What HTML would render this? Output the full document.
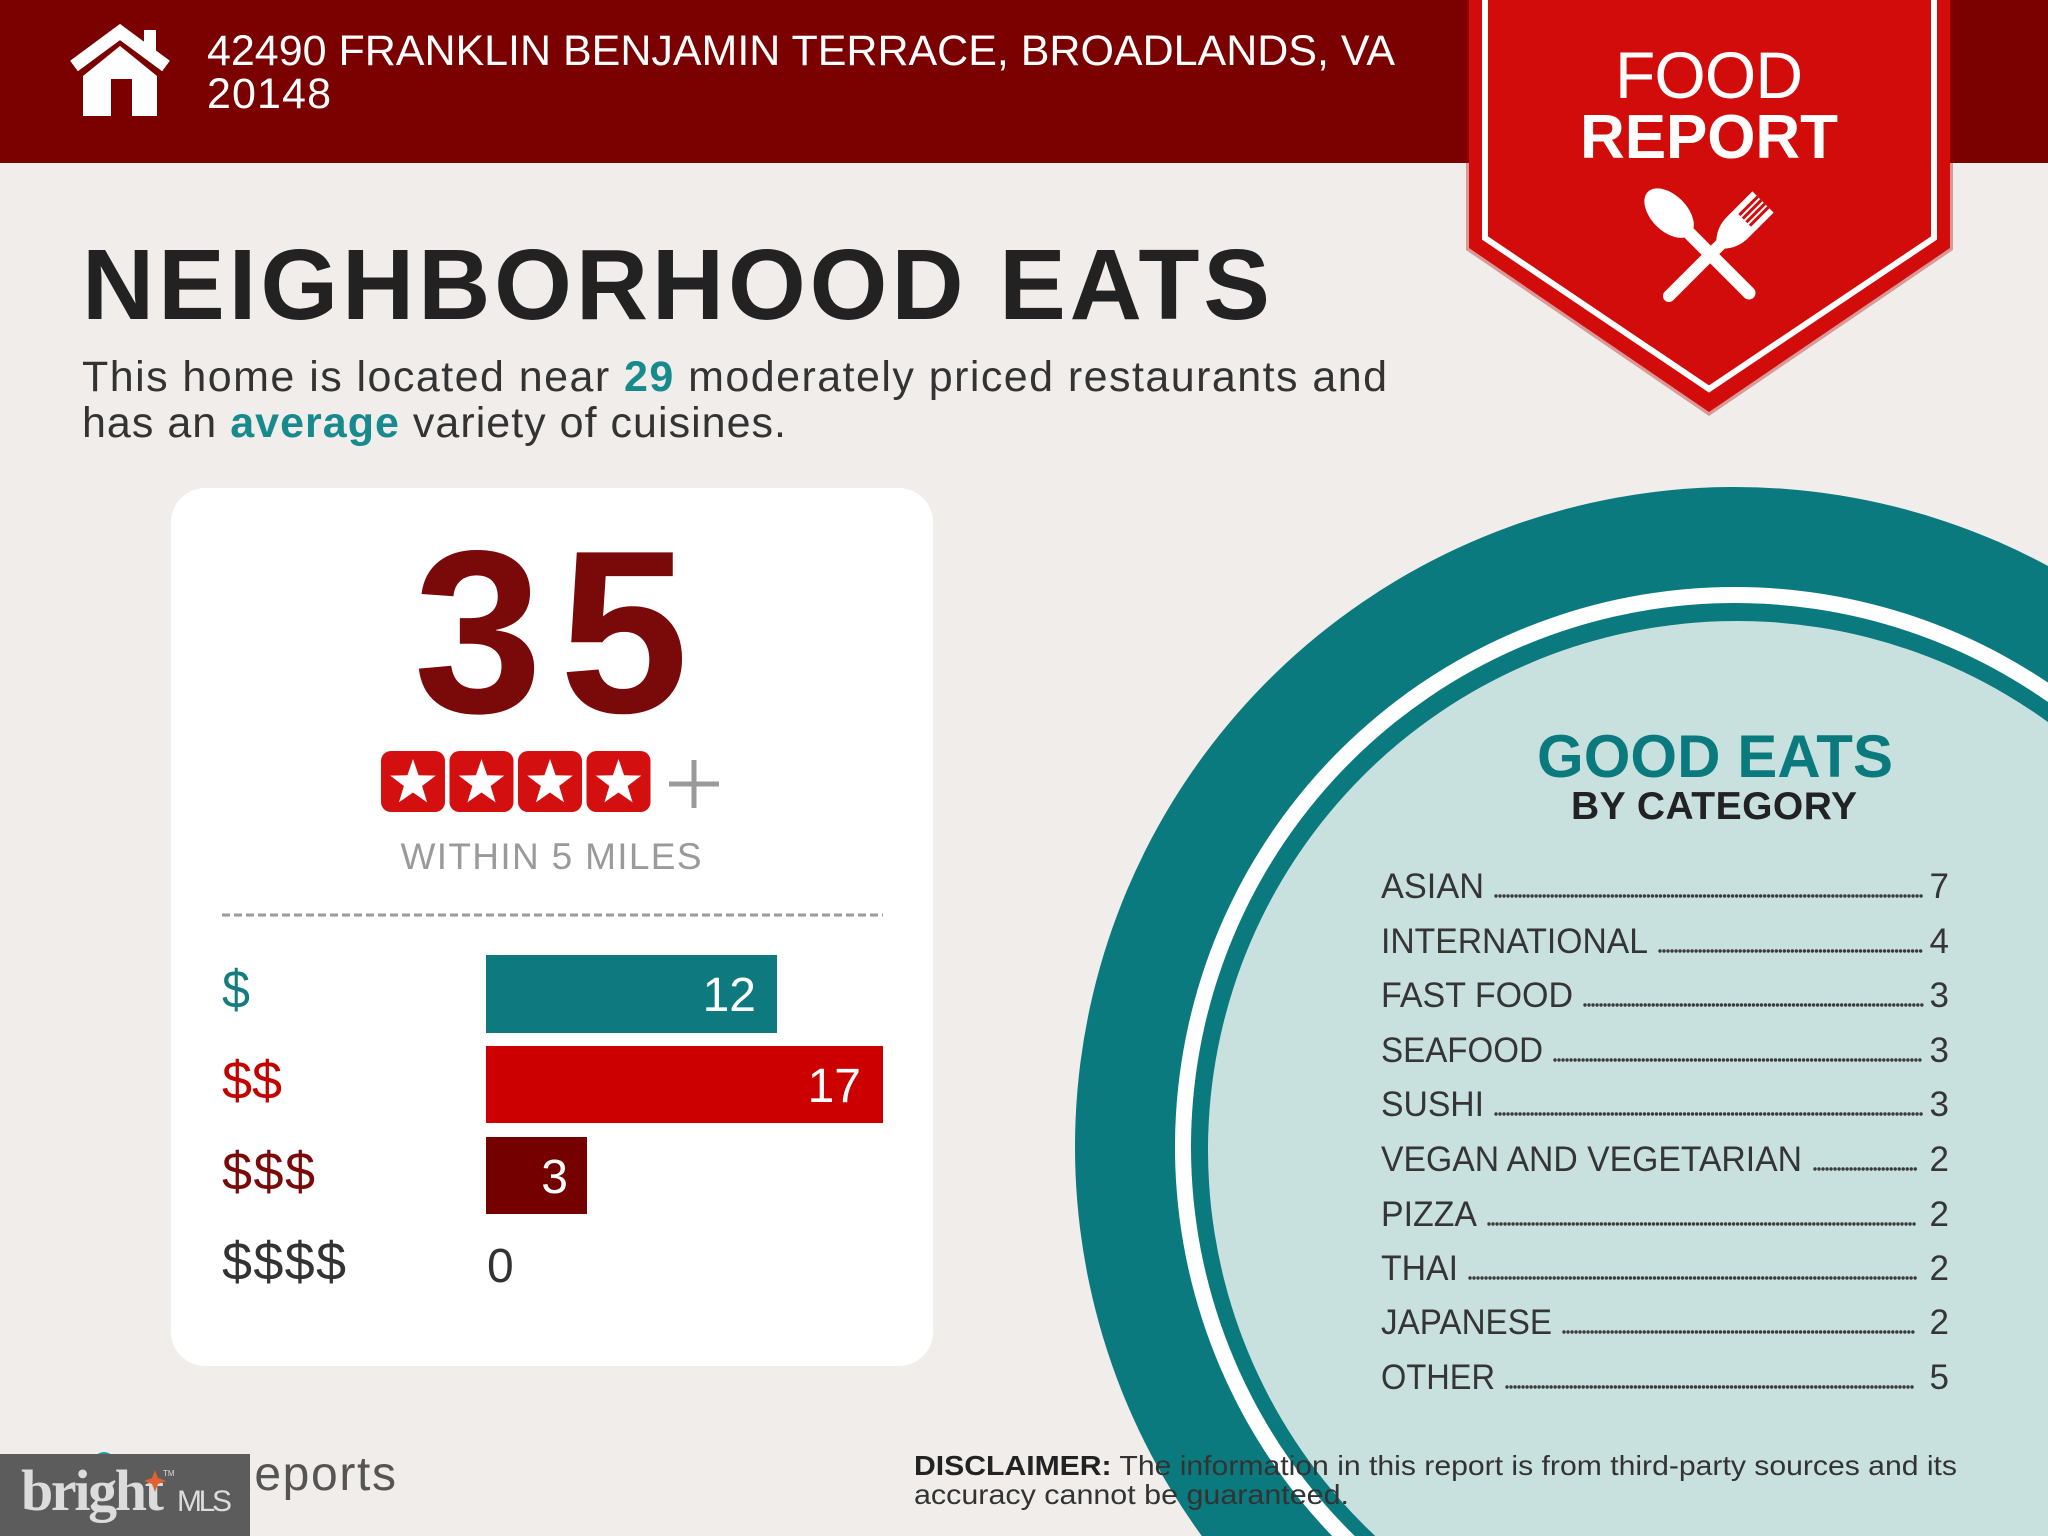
<!DOCTYPE html>
<html>
<head>
<meta charset="utf-8">
<style>
  html,body{margin:0;padding:0;background:#f1edea;width:2048px;height:1536px;overflow:hidden;}
  svg{display:block;}
  text{font-family:"Liberation Sans", sans-serif;}
</style>
</head>
<body>
<svg width="2048" height="1536" viewBox="0 0 2048 1536" xmlns="http://www.w3.org/2000/svg">
  <rect x="0" y="0" width="2048" height="1536" fill="#f1edea"/>

  <!-- Header -->
  <rect x="0" y="0" width="2048" height="163" fill="#7b0000"/>
  <!-- House icon -->
  <polyline points="74,66 120,32 166,66" fill="none" stroke="#ffffff" stroke-width="13" stroke-linejoin="miter"/>
  <rect x="144" y="30" width="12" height="24" fill="#ffffff"/>
  <polygon points="83,76 120,46 157,76 157,116 83,116" fill="#ffffff"/>
  <rect x="111" y="79" width="21" height="37" fill="#7b0000"/>
  <!-- Address -->
  <text x="207" y="65" font-size="43" fill="#ffffff" textLength="1188" lengthAdjust="spacing">42490 FRANKLIN BENJAMIN TERRACE, BROADLANDS, VA</text>
  <text x="207" y="108" font-size="43" fill="#ffffff" textLength="124" lengthAdjust="spacing">20148</text>

  <!-- Badge -->
  <polygon points="1466,0 1953,0 1953,250 1709,416 1466,250" fill="#a80000" opacity="0.35"/>
  <polygon points="1469,0 1950,0 1950,248 1709,412 1469,248" fill="#d20b0b"/>
  <polyline points="1485,0 1485,238 1709,389 1934,238 1934,0" fill="none" stroke="#ffffff" stroke-width="6"/>
  <text x="1709" y="98" font-size="66" fill="#ffffff" text-anchor="middle" textLength="188" lengthAdjust="spacing">FOOD</text>
  <text x="1709" y="158" font-size="62" font-weight="bold" fill="#ffffff" text-anchor="middle" textLength="258" lengthAdjust="spacing">REPORT</text>
  <!-- Spoon -->
  <g transform="translate(1749,293) rotate(-45)">
    <line x1="0" y1="0" x2="0" y2="-85" stroke="#ffffff" stroke-width="13" stroke-linecap="round"/>
    <ellipse cx="0" cy="-113" rx="18" ry="30" fill="#ffffff"/>
  </g>
  <!-- Fork -->
  <g transform="translate(1722,243) rotate(45)">
    <line x1="0" y1="0" x2="0" y2="75" stroke="#ffffff" stroke-width="12" stroke-linecap="round"/>
    <path d="M -6 2 Q -15 -8 -15 -22 L -15 -58 L 15 -58 L 15 -22 Q 15 -8 6 2 Z" fill="#ffffff"/>
    <line x1="-7.5" y1="-58" x2="-7.5" y2="-32" stroke="#d20b0b" stroke-width="3"/>
    <line x1="-2.5" y1="-58" x2="-2.5" y2="-32" stroke="#d20b0b" stroke-width="3"/>
    <line x1="2.5" y1="-58" x2="2.5" y2="-32" stroke="#d20b0b" stroke-width="3"/>
    <line x1="7.5" y1="-58" x2="7.5" y2="-32" stroke="#d20b0b" stroke-width="3"/>
  </g>

  <!-- Title -->
  <text x="82" y="319" font-size="100" font-weight="bold" fill="#222222" textLength="1188" lengthAdjust="spacing">NEIGHBORHOOD EATS</text>
  <text x="82" y="391" font-size="43" fill="#333333" textLength="1305" lengthAdjust="spacing">This home is located near <tspan font-weight="bold" fill="#168a8c">29</tspan> moderately priced restaurants and</text>
  <text x="82" y="437" font-size="43" fill="#333333" textLength="704" lengthAdjust="spacing">has an <tspan font-weight="bold" fill="#168a8c">average</tspan> variety of cuisines.</text>

  <!-- Card -->
  <rect x="171" y="488" width="762" height="878" rx="34" ry="34" fill="#ffffff"/>
  <text x="551" y="712" font-size="232" font-weight="bold" fill="#7a0a0a" text-anchor="middle" textLength="275" lengthAdjust="spacing">35</text>

  <!-- Stars -->
  <g>
    <rect x="381" y="751" width="64" height="61" rx="10" fill="#d40f0f"/>
    <rect x="449.5" y="751" width="64" height="61" rx="10" fill="#d40f0f"/>
    <rect x="518" y="751" width="64" height="61" rx="10" fill="#d40f0f"/>
    <rect x="586.5" y="751" width="64" height="61" rx="10" fill="#d40f0f"/>
    <g fill="#ffffff">
      <polygon transform="translate(413,783)" points="0,-24 5.6,-7.7 22.8,-7.4 9.1,3 14.1,19.4 0,9.5 -14.1,19.4 -9.1,3 -22.8,-7.4 -5.6,-7.7"/>
      <polygon transform="translate(481.5,783)" points="0,-24 5.6,-7.7 22.8,-7.4 9.1,3 14.1,19.4 0,9.5 -14.1,19.4 -9.1,3 -22.8,-7.4 -5.6,-7.7"/>
      <polygon transform="translate(550,783)" points="0,-24 5.6,-7.7 22.8,-7.4 9.1,3 14.1,19.4 0,9.5 -14.1,19.4 -9.1,3 -22.8,-7.4 -5.6,-7.7"/>
      <polygon transform="translate(618.5,783)" points="0,-24 5.6,-7.7 22.8,-7.4 9.1,3 14.1,19.4 0,9.5 -14.1,19.4 -9.1,3 -22.8,-7.4 -5.6,-7.7"/>
    </g>
  </g>
  <line x1="669" y1="784" x2="719" y2="784" stroke="#9a9a9a" stroke-width="5"/>
  <line x1="694" y1="760" x2="694" y2="808" stroke="#9a9a9a" stroke-width="5"/>
  <text x="551" y="869" font-size="37" fill="#9a9a9a" text-anchor="middle" textLength="301" lengthAdjust="spacing">WITHIN 5 MILES</text>
  <line x1="222" y1="915" x2="883" y2="915" stroke="#9a9a9a" stroke-width="3" stroke-dasharray="8 4"/>

  <!-- Bars -->
  <text x="222" y="1008" font-size="54" fill="#157d80" textLength="28" lengthAdjust="spacingAndGlyphs">$</text>
  <text x="222" y="1099" font-size="54" fill="#c40000" textLength="60" lengthAdjust="spacing">$$</text>
  <text x="222" y="1190" font-size="54" fill="#7a0a0a" textLength="93" lengthAdjust="spacing">$$$</text>
  <text x="222" y="1280" font-size="54" fill="#333333" textLength="124" lengthAdjust="spacing">$$$$</text>

  <rect x="486" y="955" width="291" height="78" fill="#0e7a80"/>
  <text x="756" y="1011" font-size="48" fill="#ffffff" text-anchor="end">12</text>
  <rect x="486" y="1046" width="397" height="77" fill="#cc0000"/>
  <text x="861" y="1102" font-size="48" fill="#ffffff" text-anchor="end">17</text>
  <rect x="486" y="1137" width="101" height="77" fill="#750000"/>
  <text x="568" y="1193" font-size="48" fill="#ffffff" text-anchor="end">3</text>
  <text x="487" y="1282" font-size="48" fill="#333333">0</text>

  <!-- Circle (clipped to frame as paths) -->
  <path d="M 2048 565.94 A 660 660 0 0 0 1201.82 1536 L 2048 1536 Z" fill="#0b7a7f"/>
  <path d="M 2048 682.64 A 560 560 0 0 0 1332.16 1536 L 2048 1536 Z" fill="#ffffff"/>
  <path d="M 2048 702.06 A 544 544 0 0 0 1354.72 1536 L 2048 1536 Z" fill="#0b7a7f"/>
  <path d="M 2048 722.08 A 529 529 0 0 0 1375.27 1536 L 2048 1536 Z" fill="#c8e1de"/>

  <text x="1715" y="777" font-size="60" font-weight="bold" fill="#0b7a7f" text-anchor="middle" textLength="356" lengthAdjust="spacing">GOOD EATS</text>
  <text x="1714" y="819" font-size="39" font-weight="bold" fill="#222222" text-anchor="middle" textLength="286" lengthAdjust="spacing">BY CATEGORY</text>

  <g font-size="35" fill="#353535">
    <text x="1381" y="898" textLength="103" lengthAdjust="spacingAndGlyphs">ASIAN</text>
    <text x="1381" y="953" textLength="267" lengthAdjust="spacingAndGlyphs">INTERNATIONAL</text>
    <text x="1381" y="1007" textLength="192" lengthAdjust="spacingAndGlyphs">FAST FOOD</text>
    <text x="1381" y="1062" textLength="162" lengthAdjust="spacingAndGlyphs">SEAFOOD</text>
    <text x="1381" y="1116" textLength="103" lengthAdjust="spacingAndGlyphs">SUSHI</text>
    <text x="1381" y="1171" textLength="421" lengthAdjust="spacingAndGlyphs">VEGAN AND VEGETARIAN</text>
    <text x="1381" y="1226" textLength="96" lengthAdjust="spacingAndGlyphs">PIZZA</text>
    <text x="1381" y="1280" textLength="77" lengthAdjust="spacingAndGlyphs">THAI</text>
    <text x="1381" y="1334" textLength="171" lengthAdjust="spacingAndGlyphs">JAPANESE</text>
    <text x="1381" y="1389" textLength="114" lengthAdjust="spacingAndGlyphs">OTHER</text>

    <text x="1949" y="898" text-anchor="end">7</text>
    <text x="1949" y="953" text-anchor="end">4</text>
    <text x="1949" y="1007" text-anchor="end">3</text>
    <text x="1949" y="1062" text-anchor="end">3</text>
    <text x="1949" y="1116" text-anchor="end">3</text>
    <text x="1949" y="1171" text-anchor="end">2</text>
    <text x="1949" y="1226" text-anchor="end">2</text>
    <text x="1949" y="1280" text-anchor="end">2</text>
    <text x="1949" y="1334" text-anchor="end">2</text>
    <text x="1949" y="1389" text-anchor="end">5</text>
  </g>
  <g stroke="#3a3a3a" stroke-width="3.4" stroke-linecap="round" stroke-dasharray="0.01 4">
    <line x1="1496" y1="896" x2="1922" y2="896"/>
    <line x1="1660" y1="951" x2="1922" y2="951"/>
    <line x1="1585" y1="1005" x2="1922" y2="1005"/>
    <line x1="1555" y1="1060" x2="1922" y2="1060"/>
    <line x1="1496" y1="1114" x2="1922" y2="1114"/>
    <line x1="1815" y1="1169" x2="1916" y2="1169"/>
    <line x1="1489" y1="1224" x2="1916" y2="1224"/>
    <line x1="1470" y1="1278" x2="1916" y2="1278"/>
    <line x1="1564" y1="1332" x2="1916" y2="1332"/>
    <line x1="1507" y1="1387" x2="1916" y2="1387"/>
  </g>

  <!-- Disclaimer -->
  <text x="914" y="1475" font-size="28" fill="#333333" textLength="1043" lengthAdjust="spacingAndGlyphs"><tspan font-weight="bold" fill="#222222">DISCLAIMER:</tspan> The information in this report is from third-party sources and its</text>
  <text x="914" y="1504" font-size="28" fill="#333333" textLength="435" lengthAdjust="spacingAndGlyphs">accuracy cannot be guaranteed.</text>

  <!-- Footer logos -->
  <circle cx="104" cy="1463" r="11" fill="#1ba0a0"/>
  <text x="218" y="1490" font-size="48" fill="#555555" textLength="178" lengthAdjust="spacing">Reports</text>
  <rect x="0" y="1454" width="250" height="82" fill="#5c5c5c"/>
  <text x="21" y="1510" font-size="58" font-weight="bold" fill="#dcdcdc" textLength="143" lengthAdjust="spacing" style="font-family:'Liberation Serif',serif">bright</text>
  <polygon points="155,1470 158,1478 166,1481 158,1484 155,1492 152,1484 144,1481 152,1478" fill="#e0622e"/>
  <text x="163" y="1476" font-size="8" fill="#dcdcdc">TM</text>
  <text x="177" y="1511" font-size="30" fill="#dcdcdc" textLength="55" lengthAdjust="spacing">MLS</text>
</svg>
</body>
</html>
